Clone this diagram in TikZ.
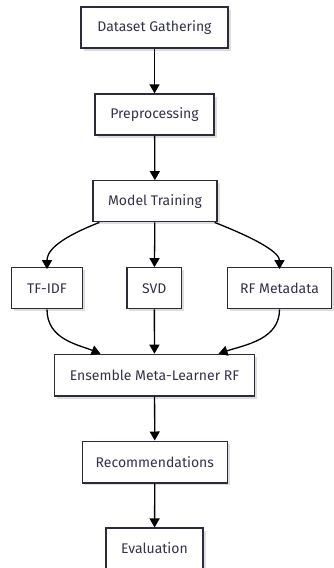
\documentclass[tikz,border=0pt]{standalone}
\usepackage{fontspec}
\setmainfont{Fira Sans}
\usetikzlibrary{arrows.meta,shadows}
\definecolor{inkc}{HTML}{2B2B3C}
\definecolor{txtc}{HTML}{33334A}
\tikzset{
  x=1pt, y=1pt,
  stepbox/.style={draw=inkc, line width=1.3pt, fill=white, inner sep=0pt,
    minimum height=41pt, text=txtc, font=\fontsize{14}{16}\selectfont,
    drop shadow={shadow xshift=2.5pt, shadow yshift=-2.5pt, fill=black!13, opacity=1}},
  arr/.style={draw=black, line width=1.3pt, -{Triangle[length=9pt,width=10pt]}}
}
\begin{document}
\begin{tikzpicture}
\useasboundingbox (0,0) rectangle (333,-568);
% pipeline boxes
\node[stepbox, minimum width=147pt] (gather) at (154.5,-27.5) {Dataset Gathering};
\node[stepbox, minimum width=119pt] (prep) at (154.5,-114.5) {Preprocessing};
\node[stepbox, minimum width=124pt] (train) at (155,-201.3) {Model Training};
\node[stepbox, minimum width=70.6pt] (tfidf) at (47,-288.3) {TF-IDF};
\node[stepbox, minimum width=54.7pt] (svd) at (154.3,-288.3) {SVD};
\node[stepbox, minimum width=104pt] (rfm) at (279.5,-288.3) {RF Metadata};
\node[stepbox, minimum width=199.6pt, minimum height=41.7pt] (ens) at (154.5,-375.2) {Ensemble Meta-Learner RF};
\node[stepbox, minimum width=145pt, minimum height=41.7pt] (rec) at (154.8,-462) {Recommendations};
\node[stepbox, minimum width=97pt] (eval) at (154.5,-548.6) {Evaluation};
% straight links
\draw[arr] (gather) -- (prep);
\draw[arr] (prep) -- (train);
\draw[arr] (train) -- (svd);
\draw[arr] (svd) -- (ens);
\draw[arr] (ens) -- (rec);
\draw[arr] (rec) -- (eval);
% branching links
\draw[arr] ([xshift=7pt]train.south west) .. controls +(-46,-18) and +(0,16) .. ([yshift=-2pt]tfidf.north);
\draw[arr] ([xshift=-3pt]train.south east) .. controls +(46,-18) and +(0,16) .. ([yshift=-2pt]rfm.north);
\draw[arr] (tfidf.south) .. controls +(0,-30) and +(-22,9) .. ([xshift=-54pt]ens.north);
\draw[arr] (rfm.south) .. controls +(0,-30) and +(27,9) .. ([xshift=64pt]ens.north);
\end{tikzpicture}
\end{document}
